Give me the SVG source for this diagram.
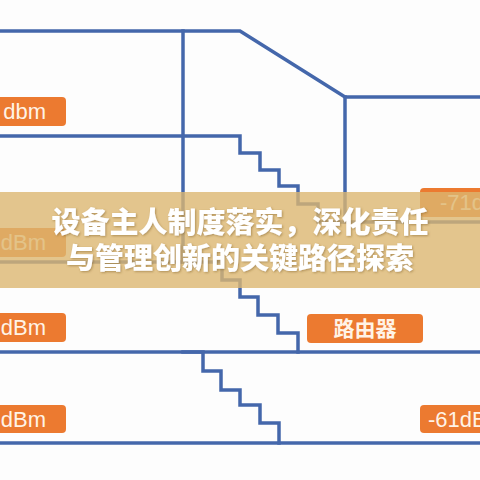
<svg xmlns="http://www.w3.org/2000/svg" width="480" height="480" viewBox="0 0 480 480">
<defs>
<style>
.wall{fill:none;stroke:#4467ab;stroke-width:3.5;stroke-linejoin:miter;stroke-linecap:square}
.tag{fill:#ec7a30}
.tt{fill:#fff3e6;font-family:"Liberation Sans","Noto Sans",sans-serif;font-size:22px}
.tc{fill:#fff3e6;font-family:"Noto Sans CJK SC",sans-serif;font-size:21px;font-weight:bold}
.bt{fill:#ffffff;font-family:"Noto Sans CJK SC",sans-serif;font-size:29px;font-weight:900;text-anchor:middle}
</style>
<filter id="sh" x="-5%" y="-20%" width="110%" height="140%">
<feDropShadow dx="1" dy="1" stdDeviation="1" flood-color="#7a5a20" flood-opacity="0.5"/>
</filter>
</defs>
<rect width="480" height="480" fill="#fdfdfd"/>
<g id="connectors">
<polyline class="wall" points="0,31 240,31 345,97 480,97"/>
<line class="wall" x1="183" y1="31" x2="183" y2="262"/>
<polyline class="wall" points="0,136 240,136 240,153 260,153 260,170 279,170 279,186 298,186 298,204 318,204 318,222 480,222"/>
<line class="wall" x1="345" y1="97" x2="345" y2="222"/>
<polyline class="wall" points="0,262 222,262 222,280 240,280 240,297 258,297 258,315 278,315 278,333 298,333 298,352"/>
<line class="wall" x1="0" y1="352" x2="480" y2="352"/>
<polyline class="wall" points="183,352 203,352 203,371 221,371 221,390 240,390 240,405 260,405 260,423 279,423 279,443"/>
<line class="wall" x1="0" y1="443" x2="480" y2="443"/>
</g>
<g id="label-top-left">
<rect class="tag" x="-10" y="97" width="76" height="29" rx="4"/>
<text class="tt" x="46" y="119" text-anchor="end">dbm</text>
</g>
<g id="label-right-71">
<rect class="tag" x="420" y="188" width="70" height="29" rx="4"/>
<text class="tt" x="440" y="210">-71dBm</text>
</g>
<g id="label-mid-left">
<rect class="tag" x="-10" y="228" width="76" height="29" rx="4"/>
<text class="tt" x="46" y="250" text-anchor="end">dBm</text>
</g>
<g id="label-left-3">
<rect class="tag" x="-10" y="313" width="76" height="29" rx="4"/>
<text class="tt" x="46" y="335" text-anchor="end">dBm</text>
</g>
<g id="label-router">
<rect class="tag" x="307" y="314" width="116" height="29" rx="4"/>
<text class="tc" x="365" y="336" text-anchor="middle">路由器</text>
</g>
<g id="label-left-4">
<rect class="tag" x="-10" y="405" width="76" height="28" rx="4"/>
<text class="tt" x="46" y="427" text-anchor="end">dBm</text>
</g>
<g id="label-right-61">
<rect class="tag" x="420" y="405" width="70" height="28" rx="4"/>
<text class="tt" x="428" y="427">-61dBm</text>
</g>
<g id="banner">
<rect x="0" y="192" width="480" height="96" fill="#dcb770" fill-opacity="0.8"/>
<g filter="url(#sh)">
<text class="bt" x="240" y="233">设备主人制度落实，深化责任</text>
<text class="bt" x="240" y="269">与管理创新的关键路径探索</text>
</g>
</g>
</svg>
